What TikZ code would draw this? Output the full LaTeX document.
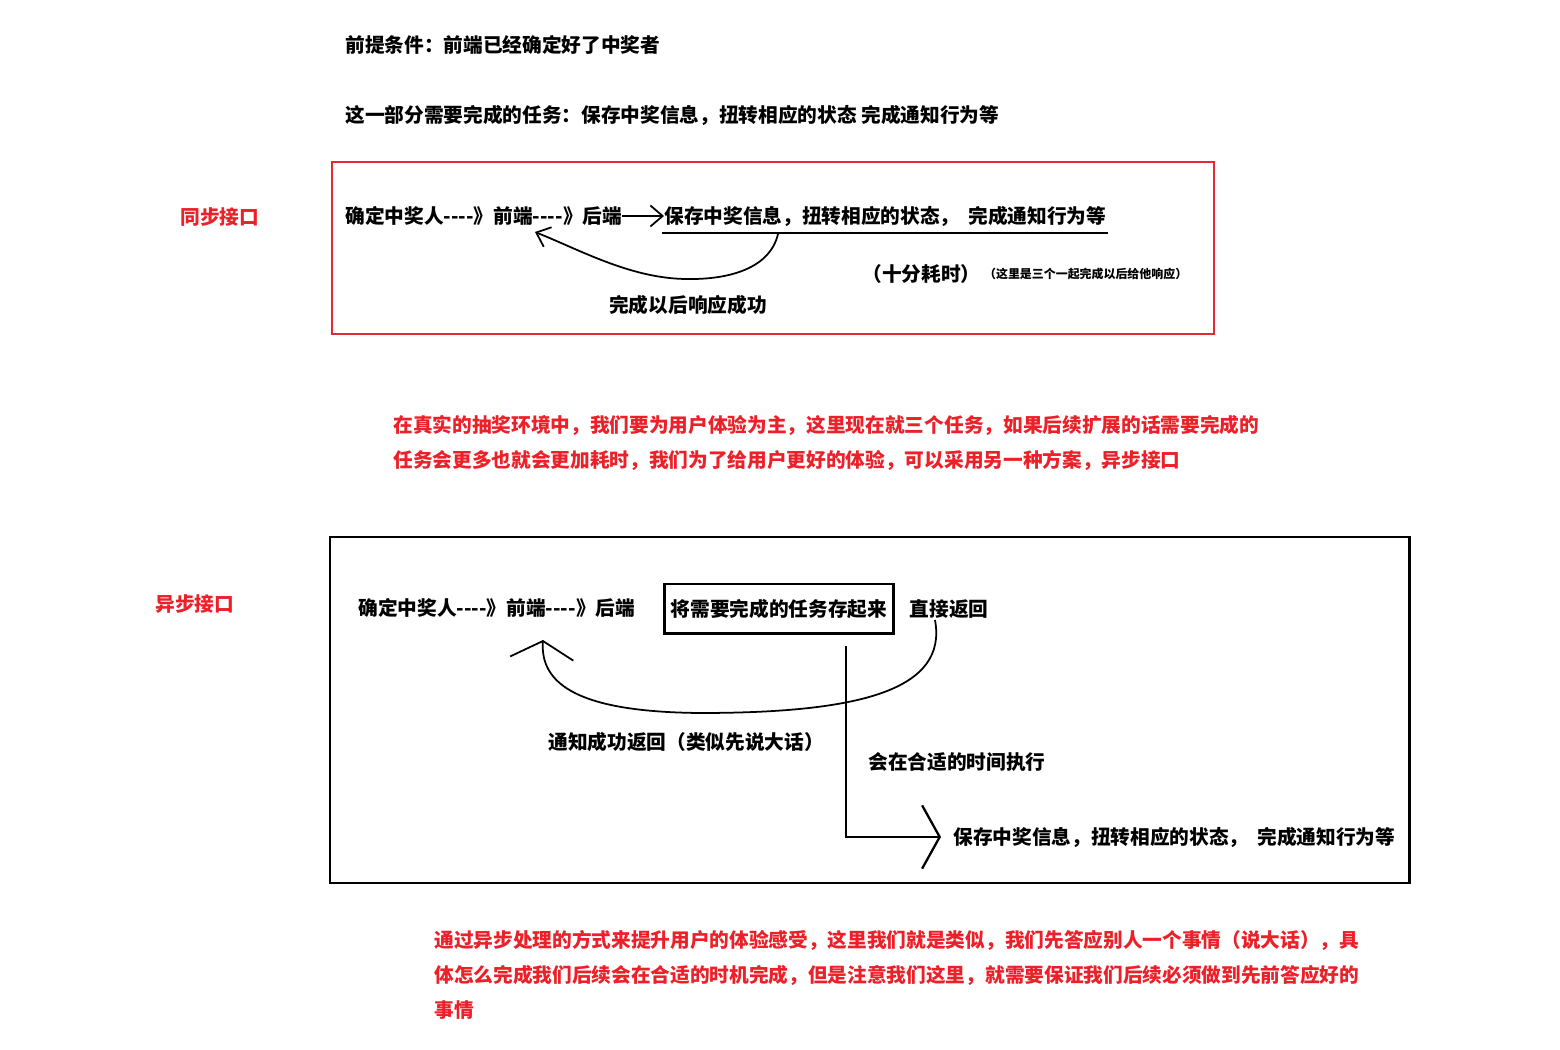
\documentclass[tikz,border=0pt]{standalone}
\usepackage{fontspec}
\setmainfont{Noto Sans CJK SC}
\usepackage{xcolor}
\usepackage{tikz}
\usetikzlibrary{arrows.meta, positioning, calc}

\definecolor{notered}{RGB}{236,32,40}
\definecolor{framered}{RGB}{232,40,52}
% 四个短横，不要连成长破折号
\newcommand{\fourdash}{-\kern0pt-\kern0pt-\kern0pt-}

\begin{document}
\begin{tikzpicture}[x=0.02cm, y=-0.02cm,
  txt/.style={anchor=west, inner sep=0pt, font=\bfseries\fontsize{11.2}{13}\selectfont},
  note/.style={txt, text=notered, align=left, font=\bfseries\fontsize{11.2}{19.8}\selectfont},
  tiny/.style={anchor=west, inner sep=0pt, font=\bfseries\fontsize{6.8}{8}\selectfont},
  arrow/.style={-{Straight Barb[length=7pt, width=12pt]}, line width=1pt},
  bigarrow/.style={-{Straight Barb[length=10pt, width=36pt]}, line width=1pt}
]
\useasboundingbox (0,0) rectangle (1560,1050);

% 上面的说明
\node[txt] (premise) at (345,45) {前提条件：前端已经确定好了中奖者};
\node[txt] (tasks) at (345,115) {这一部分需要完成的任务：保存中奖信息，扭转相应的状态 完成通知行为等};

% 同步接口
\draw[framered, line width=1.1pt] (332,162) rectangle (1214,334);
\node[txt, text=notered] (sync_title) at (180,217) {同步接口};
\node[txt] (sync_chain) at (345,216) {确定中奖人\fourdash》前端\fourdash》后端};
\node[txt] (sync_task) at (664,216) {保存中奖信息，扭转相应的状态，\ \ 完成通知行为等};
\coordinate (sync_ul_l) at (662,233);
\coordinate (sync_ul_r) at (1108,233);
\coordinate (sync_turn) at (778,234);
\coordinate (sync_back) at (535,232);
\node[txt] (sync_cost) at (862,274) {（十分耗时）};
\node[tiny, right=0.06cm of sync_cost] (sync_costnote) {（这里是三个一起完成以后给他响应）};
\node[txt, anchor=center] (sync_reply) at (688,305) {完成以后响应成功};

\draw[arrow] (sync_chain) -- (sync_task);
\draw[line width=1.5pt] (sync_ul_l) -- (sync_ul_r);
\draw[arrow] (sync_turn) .. controls (770,268) and (730,280) .. (685,279)
  .. controls (630,278) and (580,250) .. (sync_back);

% 中间的红字
\node[note] (why) at (393,443) {在真实的抽奖环境中，我们要为用户体验为主，这里现在就三个任务，如果后续扩展的话需要完成的\\任务会更多也就会更加耗时，我们为了给用户更好的体验，可以采用另一种方案，异步接口};

% 异步接口
\draw[line width=1.7pt] (330,537) rectangle (1409,883);
\node[txt, text=notered] (async_title) at (155,604) {异步接口};
\node[txt] (async_chain) at (358,608) {确定中奖人\fourdash》前端\fourdash》后端};
\node[txt, anchor=center, draw, line width=1.7pt, minimum width=4.6cm, minimum height=1cm]
  (async_store) at (779,609) {将需要完成的任务存起来};
\node[txt, right=0.28cm of async_store] (async_return) {直接返回};
\coordinate (async_turn) at (935,620);
\coordinate (async_back) at (543,640);
\node[txt] (async_reply) at (548,742) {通知成功返回（类似先说大话）};
\coordinate (async_drop) at (846,646);
\node[txt] (async_later) at (868,762) {会在合适的时间执行};
\node[txt] (async_task) at (953,837) {保存中奖信息，扭转相应的状态，\ \ 完成通知行为等};

\draw[bigarrow] (async_turn) .. controls (948,690) and (860,713) .. (700,713)
  .. controls (580,712) and (540,685) .. (async_back);
\draw[bigarrow, line width=1.3pt] (async_drop) |- ($(async_task.west)+(-12,0)$);

% 下面的红字
\node[note] (summary) at (434,975) {通过异步处理的方式来提升用户的体验感受，这里我们就是类似，我们先答应别人一个事情（说大话），具\\体怎么完成我们后续会在合适的时机完成，但是注意我们这里，就需要保证我们后续必须做到先前答应好的\\事情};
\end{tikzpicture}
\end{document}
